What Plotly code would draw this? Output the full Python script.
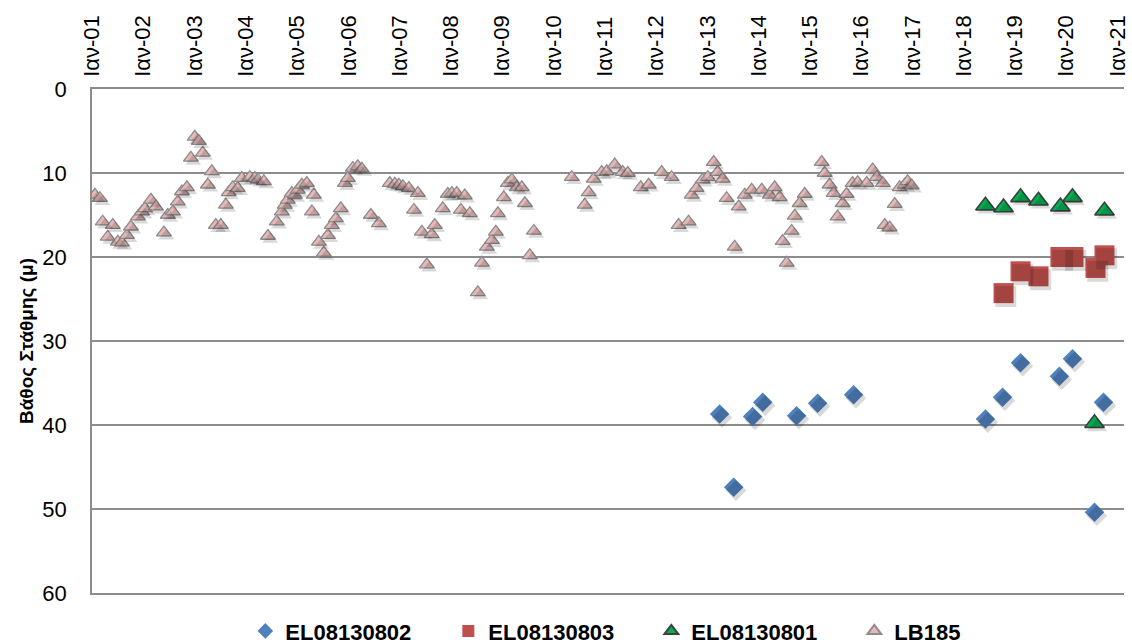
import plotly.graph_objects as go

# Groundwater level depth below surface (m) at four monitoring wells

years = list(range(2001, 2022))
tick_dates = [f"{y}-01-01" for y in years]
tick_text = [f"Ιαν-{y % 100:02d}" for y in years]

y_ticks = [0, 10, 20, 30, 40, 50, 60]

# EL08130802
el02_dates = ["2013-03-29", "2013-07-07", "2013-11-19", "2014-01-30", "2014-09-28",
              "2015-02-25", "2015-11-08", "2018-06-04", "2018-10-04", "2019-02-09",
              "2019-11-13", "2020-02-14", "2020-07-20", "2020-09-22"]
el02_depth = [38.7, 47.4, 39.0, 37.3, 38.9, 37.4, 36.4, 39.3, 36.7, 32.6,
              34.2, 32.1, 50.4, 37.3]

# EL08130803
el03_dates = ["2018-10-11", "2019-02-09", "2019-06-17", "2019-11-20", "2020-02-21",
              "2020-07-27", "2020-09-29"]
el03_depth = [24.3, 21.7, 22.3, 20.0, 20.0, 21.3, 19.8]

# EL08130801
el01_dates = ["2018-06-04", "2018-10-11", "2019-02-09", "2019-06-17", "2019-11-20",
              "2020-02-14", "2020-07-20", "2020-09-29"]
el01_depth = [13.9, 14.1, 12.9, 13.3, 14.0, 12.9, 39.8, 14.5]

# LB185
lb_dates = [
    "2001-01-22", "2001-02-26", "2001-03-18", "2001-04-23", "2001-05-29", "2001-07-04",
    "2001-08-02", "2001-09-07", "2001-10-05", "2001-11-24", "2001-12-23", "2002-01-13",
    "2002-02-25", "2002-04-01", "2002-05-28", "2002-06-25", "2002-07-31", "2002-09-04",
    "2002-10-03", "2002-11-08", "2002-12-06", "2003-01-03", "2003-02-01", "2003-03-01",
    "2003-04-06", "2003-05-04", "2003-06-02", "2003-07-07", "2003-08-12", "2003-09-02",
    "2003-10-01", "2003-11-05", "2003-12-04", "2004-01-30", "2004-03-06", "2004-03-27",
    "2004-05-09", "2004-06-07", "2004-08-09", "2004-09-14", "2004-10-05", "2004-10-26",
    "2004-11-24", "2004-12-15", "2005-01-06", "2005-02-04", "2005-03-11", "2005-04-16",
    "2005-04-30", "2005-06-05", "2005-07-10", "2005-08-08", "2005-09-05", "2005-10-04",
    "2005-11-08", "2005-12-07", "2005-12-28", "2006-02-02", "2006-03-09", "2006-04-07",
    "2006-06-10", "2006-08-06", "2006-10-23", "2006-11-28", "2006-12-27", "2007-01-24",
    "2007-03-08", "2007-04-13", "2007-05-11", "2007-06-08", "2007-07-14", "2007-08-18",
    "2007-09-08", "2007-11-04", "2007-12-10", "2008-01-08", "2008-02-12", "2008-03-12",
    "2008-04-09", "2008-05-15", "2008-07-11", "2008-08-09", "2008-09-13", "2008-10-19",
    "2008-11-16", "2008-12-01", "2009-01-12", "2009-02-10", "2009-03-10", "2009-04-15",
    "2009-05-20", "2009-06-11", "2009-07-16", "2009-08-14", "2010-05-11", "2010-08-11",
    "2010-09-09", "2010-10-14", "2010-12-10", "2011-01-15", "2011-03-13", "2011-05-09",
    "2011-06-14", "2011-09-14", "2011-11-10", "2012-02-10", "2012-04-21", "2012-06-10",
    "2012-08-20", "2012-09-11", "2012-10-16", "2012-11-28", "2013-01-04", "2013-02-15",
    "2013-03-15", "2013-04-20", "2013-05-18", "2013-07-14", "2013-08-12", "2013-09-24",
    "2013-11-12", "2014-01-23", "2014-03-21", "2014-04-25", "2014-05-31", "2014-06-21",
    "2014-07-20", "2014-08-24", "2014-09-15", "2014-10-20", "2014-11-25", "2015-03-26",
    "2015-04-16", "2015-05-21", "2015-06-19", "2015-07-17", "2015-08-22", "2015-09-19",
    "2015-11-01", "2015-12-07", "2016-02-09", "2016-03-23", "2016-04-21", "2016-06-03",
    "2016-06-17", "2016-07-22", "2016-08-27", "2016-10-01", "2016-11-06", "2016-11-27",
    "2016-12-26",
]
lb_depth = [
    12.6, 13.0, 15.8, 17.6, 16.2, 18.2, 18.3, 17.4, 16.4, 15.2, 14.6, 14.2,
    13.2, 14.0, 17.1, 15.0, 14.6, 13.4, 12.2, 11.7, 8.2, 5.7, 6.2, 7.6,
    11.4, 9.8, 16.2, 16.2, 13.8, 12.3, 11.7, 11.8, 10.6, 10.5, 10.6, 10.8,
    11.0, 17.5, 15.8, 14.6, 13.8, 13.2, 12.4, 12.6, 12.0, 11.4, 11.2, 14.6,
    12.6, 18.2, 19.5, 17.4, 16.2, 15.4, 14.2, 11.2, 10.6, 9.4, 9.2, 9.5,
    15.0, 16.0, 11.2, 11.3, 11.4, 11.6, 11.8, 14.4, 12.4, 17.0, 20.9, 17.3,
    16.2, 14.2, 12.5, 12.4, 12.4, 14.4, 12.7, 14.8, 24.2, 20.7, 18.8, 18.0,
    17.0, 14.8, 12.9, 11.2, 10.8, 11.7, 11.7, 13.6, 19.8, 16.9, 10.5, 13.8,
    12.3, 10.7, 9.9, 9.8, 9.0, 9.9, 10.0, 11.7, 11.4, 9.9, 10.5, 16.2,
    15.8, 12.6, 11.8, 10.8, 10.5, 8.7, 9.9, 10.7, 13.0, 18.8, 14.0, 12.6,
    12.0, 12.0, 12.6, 11.7, 12.9, 18.1, 20.7, 16.9, 15.1, 13.6, 12.5, 8.7,
    10.0, 11.4, 12.4, 15.2, 13.6, 12.5, 11.2, 11.1, 11.2, 9.6, 10.5, 11.2,
    16.2, 16.5, 13.7, 11.7, 11.4, 11.0, 11.5,
]

series = [
    dict(name="EL08130802", x=el02_dates, y=el02_depth, symbol="diamond", size=15,
         color="#4F81BD", line=dict(width=0)),
    dict(name="EL08130803", x=el03_dates, y=el03_depth, symbol="square", size=20,
         color="#C0504D", line=dict(width=0)),
    dict(name="EL08130801", x=el01_dates, y=el01_depth, symbol="triangle-up", size=17,
         color="#00B050", line=dict(width=1.6, color="#404040")),
    dict(name="LB185", x=lb_dates, y=lb_depth, symbol="triangle-up", size=13,
         color="#E6B9B8", line=dict(width=1.3, color="#8C8C8C")),
]

x_range = ["2001-01-01", "2021-02-15"]
# Shadow axes: same scale, shifted by ~20 days / 0.4 m so marks fall slightly down-right
x_range_shadow = ["2000-12-15", "2021-01-30"]
y_range = [60, 0]
y_range_shadow = [59.6, -0.4]

fig = go.Figure()

for s in series:
    fig.add_trace(go.Scatter(
        x=s["x"], y=s["y"], mode="markers", xaxis="x2", yaxis="y2",
        showlegend=False, hoverinfo="skip",
        marker=dict(symbol=s["symbol"], size=s["size"] + 1,
                    color="rgba(0,0,0,0.15)", line=dict(width=0)),
    ))

for s in series:
    fig.add_trace(go.Scatter(
        x=s["x"], y=s["y"], mode="markers", name=s["name"],
        marker=dict(symbol=s["symbol"], size=s["size"], color=s["color"], line=s["line"]),
    ))

grid_col = "#8C8C8C"

fig.update_layout(
    width=1132, height=644,
    margin=dict(l=92, r=8, t=89, b=51, autoexpand=False),
    paper_bgcolor="white", plot_bgcolor="white",
    font=dict(family="Liberation Sans, Arial, sans-serif", color="black"),
    showlegend=True,
    legend=dict(
        orientation="h", x=0.542, xanchor="center",
        yref="container", y=0.02, yanchor="middle",
        font=dict(family="Liberation Sans Narrow, Liberation Sans, sans-serif",
                  size=22, color="black", weight="bold"),
        itemsizing="constant", entrywidth=158, entrywidthmode="pixels",
    ),
    xaxis=dict(
        type="date", side="top", range=x_range,
        tickvals=tick_dates, ticktext=tick_text, tickangle=-90,
        tickfont=dict(size=22),
        showgrid=False, zeroline=False,
        showline=True, linecolor=grid_col, linewidth=1.5, mirror=True,
        ticks="", ticklabelstandoff=6,
    ),
    xaxis2=dict(type="date", range=x_range_shadow, overlaying="x", visible=False),
    yaxis=dict(
        range=y_range,
        tickvals=y_ticks, tickfont=dict(size=22),
        showgrid=True, gridcolor=grid_col, gridwidth=1.5,
        zeroline=False,
        showline=True, linecolor=grid_col, linewidth=1.5,
        ticks="", ticklabelstandoff=19,
        title=dict(text="Βάθος Στάθμης (μ)",
                   font=dict(size=19, weight="bold"), standoff=4),
    ),
    yaxis2=dict(range=y_range_shadow, overlaying="y", visible=False),
)

fig.write_html("out.html")
